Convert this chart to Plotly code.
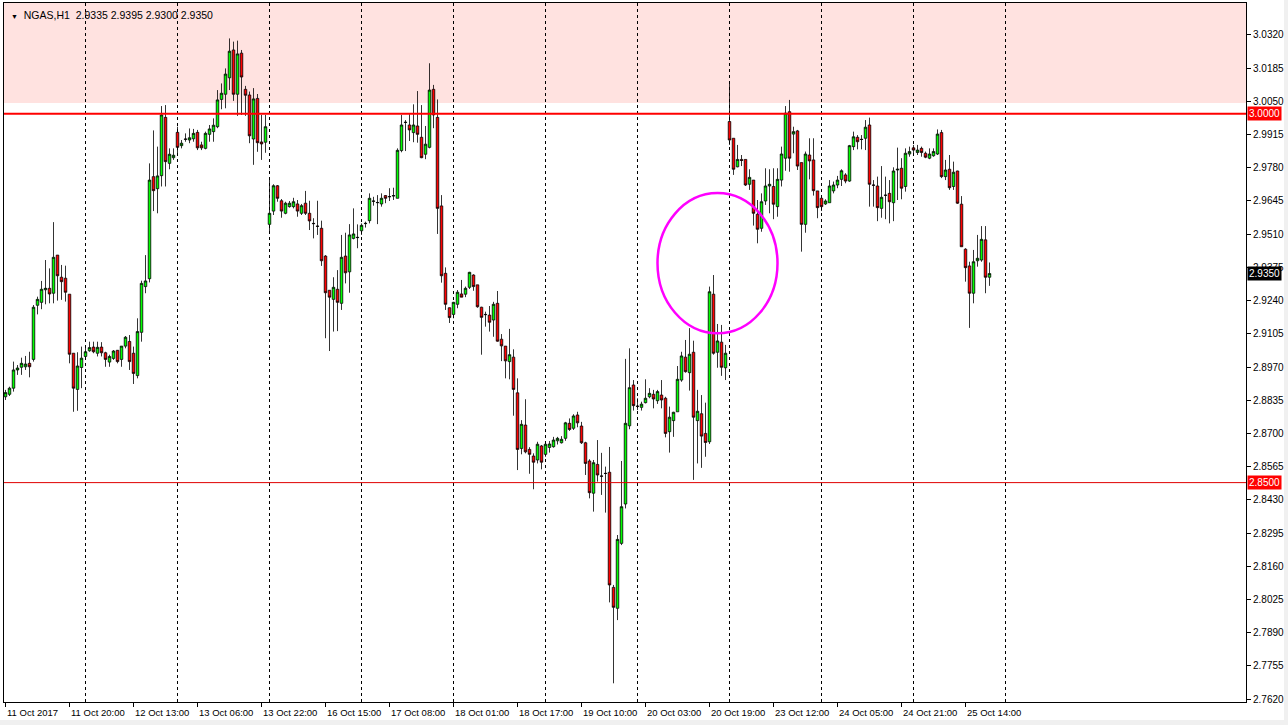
import plotly.graph_objects as go

symbol = "NGAS,H1"

opens = [2.8849,2.8859,2.8884,2.8958,2.8969,2.8971,2.8985,2.9001,2.9221,2.9233,
2.9284,2.9290,2.9270,2.9425,2.9335,2.9331,2.9266,2.9026,2.8879,2.8968,
2.9013,2.9036,2.9051,2.9026,2.9051,2.9028,2.8990,2.9005,2.9038,2.9001,
2.9055,2.9074,2.9026,2.8935,2.9111,2.9297,2.9329,2.9744,2.9695,2.9748,
2.9985,2.9798,2.9821,2.9924,2.9870,2.9897,2.9893,2.9898,2.9924,2.9873,
2.9859,2.9916,2.9927,2.9947,3.0058,3.0079,3.0146,3.0259,3.0079,3.0246,
3.0099,3.0076,2.9897,3.0062,2.9885,2.9884,2.9550,2.9604,2.9707,2.9646,
2.9595,2.9622,2.9622,2.9633,2.9595,2.9636,2.9595,2.9554,2.9543,2.9534,
2.9421,2.9282,2.9245,2.9286,2.9229,2.9421,2.9357,2.9493,2.9496,2.9524,
2.9553,2.9565,2.9645,2.9638,2.9633,2.9667,2.9662,2.9665,2.9656,2.9850,
2.9964,2.9954,2.9923,2.9950,2.9904,2.9835,2.9863,3.0099,2.9985,2.9625,
2.9351,2.9211,2.9184,2.9225,2.9267,2.9266,2.9294,2.9344,2.9304,2.9213,
2.9184,2.9181,2.9161,2.9229,2.9083,2.9055,2.8992,2.9010,2.8865,2.8639,
2.8734,2.8635,2.8608,2.8592,2.8649,2.8615,2.8643,2.8646,2.8670,2.8662,
2.8680,2.8741,2.8721,2.8775,2.8730,2.8662,2.8588,2.8457,2.8574,2.8527,
2.8538,2.8542,2.8074,2.7989,2.8253,2.8413,2.8731,2.8897,2.8811,2.8806,
2.8825,2.8849,2.8859,2.8833,2.8856,2.8843,2.8707,2.8752,2.8788,2.8917,
2.9010,2.8947,2.9030,2.8752,2.8780,2.8700,2.8666,2.9266,2.9030,2.9071,
2.8967,2.9968,2.9900,2.9784,2.9814,2.9814,2.9713,2.9730,2.9591,2.9534,
2.9645,2.9706,2.9704,2.9622,2.9730,2.9819,3.0008,2.9917,2.9930,2.9801,
2.9550,2.9832,2.9812,2.9686,2.9656,2.9633,2.9638,2.9686,2.9710,2.9733,
2.9751,2.9726,2.9866,2.9904,2.9896,2.9900,2.9954,2.9710,2.9706,2.9615,
2.9669,2.9676,2.9638,2.9771,2.9778,2.9704,2.9836,2.9861,2.9842,2.9859,
2.9839,2.9819,2.9829,2.9836,2.9923,2.9744,2.9774,2.9704,2.9767,2.9632,
2.9449,2.9381,2.9270,2.9402,2.9405,2.9487,2.9335]

highs = [2.8877,2.8890,2.8992,2.8978,2.9008,2.9015,2.9032,2.9222,2.9256,2.9320,
2.9405,2.9371,2.9559,2.9425,2.9385,2.9382,2.9266,2.9026,2.9030,2.9053,
2.9053,2.9073,2.9073,2.9073,2.9071,2.9032,2.9020,2.9039,2.9039,2.9055,
2.9096,2.9100,2.9053,2.9168,2.9321,2.9425,2.9798,2.9932,2.9866,3.0031,
3.0035,2.9859,2.9859,2.9947,2.9893,2.9920,2.9940,2.9938,2.9934,2.9886,
2.9927,2.9954,2.9981,3.0096,3.0123,3.0184,3.0306,3.0293,3.0297,3.0259,
3.0113,3.0090,3.0104,3.0080,2.9995,2.9995,2.9733,2.9713,2.9710,2.9653,
2.9642,2.9645,2.9658,2.9649,2.9633,2.9686,2.9646,2.9575,2.9646,2.9565,
2.9425,2.9282,2.9335,2.9364,2.9507,2.9516,2.9551,2.9615,2.9550,2.9554,
2.9561,2.9676,2.9662,2.9669,2.9676,2.9669,2.9697,2.9699,2.9859,2.9995,
2.9974,2.9998,3.0038,3.0092,3.0035,2.9950,3.0205,3.0117,3.0058,2.9669,
2.9375,2.9212,2.9235,2.9283,2.9324,2.9297,2.9357,2.9347,2.9304,2.9215,
2.9195,2.9218,2.9235,2.9279,2.9104,2.9055,2.9125,2.9042,2.8924,2.8754,
2.8839,2.8644,2.8619,2.8666,2.8653,2.8662,2.8669,2.8686,2.8686,2.8689,
2.8747,2.8761,2.8778,2.8788,2.8747,2.8666,2.8595,2.8592,2.8673,2.8621,
2.8565,2.8645,2.8084,2.8287,2.8588,2.9003,2.9046,2.8917,2.8843,2.8829,
2.8920,2.8884,2.8877,2.8877,2.8917,2.8849,2.8809,2.8788,2.8974,2.9032,
2.9080,2.9128,2.9077,2.8877,2.8856,2.8825,2.9297,2.9344,2.9145,2.9141,
2.9060,3.0130,2.9900,2.9873,2.9832,2.9814,2.9774,2.9730,2.9649,2.9676,
2.9778,2.9774,2.9778,2.9778,2.9866,3.0031,3.0056,2.9947,2.9934,2.9801,
2.9846,2.9900,2.9900,2.9686,2.9656,2.9652,2.9730,2.9724,2.9747,2.9774,
2.9758,2.9873,2.9927,2.9913,2.9913,2.9974,2.9984,2.9730,2.9744,2.9787,
2.9744,2.9730,2.9782,2.9862,2.9819,2.9859,2.9866,2.9873,2.9873,2.9866,
2.9846,2.9859,2.9859,2.9936,2.9934,2.9812,2.9832,2.9805,2.9768,2.9665,
2.9453,2.9398,2.9446,2.9507,2.9543,2.9543,2.9395]

lows = [2.8836,2.8852,2.8870,2.8938,2.8938,2.8958,2.8928,2.8992,2.9184,2.9205,
2.9225,2.9229,2.9229,2.9240,2.9243,2.9236,2.8985,2.8788,2.8792,2.8884,
2.8999,2.9032,2.9026,2.9013,2.9013,2.8971,2.8971,2.8999,2.8985,2.8971,
2.9046,2.8958,2.8901,2.8924,2.9073,2.9270,2.9314,2.9604,2.9595,2.9704,
2.9704,2.9774,2.9812,2.9836,2.9859,2.9886,2.9880,2.9886,2.9852,2.9852,
2.9855,2.9886,2.9886,2.9941,3.0018,3.0022,3.0096,3.0052,2.9991,2.9995,
2.9991,2.9880,2.9792,2.9845,2.9812,2.9841,2.9514,2.9588,2.9642,2.9577,
2.9591,2.9618,2.9615,2.9581,2.9588,2.9588,2.9527,2.9493,2.9507,2.9381,
2.9087,2.9035,2.9114,2.9116,2.9202,2.9310,2.9272,2.9489,2.9453,2.9507,
2.9537,2.9554,2.9626,2.9551,2.9622,2.9636,2.9645,2.9649,2.9656,2.9843,
2.9848,2.9889,2.9884,2.9882,2.9819,2.9815,2.9859,2.9941,2.9511,2.9313,
2.9202,2.9149,2.9168,2.9209,2.9254,2.9254,2.9287,2.9280,2.9211,2.9020,
2.9134,2.9114,2.9093,2.9073,2.8994,2.8924,2.8920,2.8772,2.8551,2.8615,
2.8619,2.8536,2.8473,2.8578,2.8554,2.8605,2.8622,2.8642,2.8655,2.8659,
2.8670,2.8710,2.8714,2.8725,2.8657,2.8531,2.8436,2.8382,2.8504,2.8450,
2.8378,2.8013,2.7684,2.7941,2.8246,2.8395,2.8717,2.8793,2.8795,2.8793,
2.8822,2.8843,2.8802,2.8820,2.8802,2.8684,2.8622,2.8686,2.8788,2.8910,
2.8947,2.8874,2.8511,2.8578,2.8560,2.8605,2.8657,2.9020,2.8967,2.8934,
2.8917,2.9873,2.9751,2.9782,2.9787,2.9706,2.9690,2.9545,2.9473,2.9520,
2.9629,2.9595,2.9571,2.9581,2.9704,2.9768,2.9764,2.9839,2.9771,2.9439,
2.9516,2.9733,2.9667,2.9575,2.9604,2.9629,2.9638,2.9676,2.9697,2.9706,
2.9717,2.9723,2.9852,2.9855,2.9855,2.9852,2.9622,2.9622,2.9563,2.9577,
2.9571,2.9554,2.9563,2.9649,2.9652,2.9683,2.9825,2.9832,2.9832,2.9825,
2.9819,2.9815,2.9825,2.9832,2.9738,2.9730,2.9690,2.9690,2.9633,2.9459,
2.9317,2.9129,2.9229,2.9378,2.9398,2.9270,2.9300]

closes = [2.8866,2.8884,2.8958,2.8966,2.8985,2.8982,2.8971,2.9213,2.9245,2.9286,
2.9290,2.9267,2.9416,2.9341,2.9317,2.9274,2.9022,2.8884,2.8974,2.9006,
2.9032,2.9049,2.9032,2.9050,2.9028,2.9001,2.9013,2.9035,2.8992,2.9055,
2.9091,2.8992,2.8944,2.9114,2.9310,2.9320,2.9730,2.9687,2.9747,2.9995,
2.9805,2.9835,2.9831,2.9863,2.9880,2.9896,2.9902,2.9920,2.9861,2.9861,
2.9920,2.9938,2.9953,3.0056,3.0083,3.0161,3.0254,3.0079,3.0243,3.0149,
3.0075,2.9910,3.0060,2.9882,2.9877,2.9947,2.9595,2.9707,2.9656,2.9604,
2.9636,2.9636,2.9642,2.9604,2.9626,2.9595,2.9564,2.9553,2.9542,2.9402,
2.9272,2.9254,2.9294,2.9233,2.9416,2.9353,2.9507,2.9511,2.9497,2.9546,
2.9554,2.9656,2.9644,2.9639,2.9656,2.9656,2.9663,2.9667,2.9851,2.9954,
2.9965,2.9934,2.9954,2.9916,2.9821,2.9876,3.0096,2.9995,2.9615,2.9341,
2.9225,2.9171,2.9233,2.9274,2.9254,2.9290,2.9355,2.9297,2.9215,2.9172,
2.9183,2.9152,2.9225,2.9075,2.9056,2.8995,2.9020,2.8879,2.8635,2.8737,
2.8625,2.8615,2.8583,2.8656,2.8583,2.8656,2.8657,2.8673,2.8680,2.8676,
2.8743,2.8716,2.8771,2.8743,2.8662,2.8578,2.8459,2.8581,2.8531,2.8526,
2.8537,2.8084,2.7993,2.8269,2.8402,2.8741,2.8886,2.8813,2.8810,2.8819,
2.8843,2.8863,2.8840,2.8870,2.8836,2.8700,2.8766,2.8786,2.8920,2.9015,
2.8951,2.9022,2.8766,2.8790,2.8689,2.8663,2.9276,2.9026,2.9076,2.8969,
2.9026,2.9893,2.9774,2.9814,2.9810,2.9710,2.9741,2.9595,2.9530,2.9642,
2.9706,2.9713,2.9632,2.9733,2.9836,3.0002,2.9819,2.9927,2.9787,2.9550,
2.9836,2.9808,2.9687,2.9618,2.9622,2.9645,2.9706,2.9710,2.9730,2.9768,
2.9726,2.9870,2.9906,2.9886,2.9895,2.9945,2.9713,2.9709,2.9618,2.9660,
2.9668,2.9642,2.9767,2.9774,2.9697,2.9839,2.9846,2.9852,2.9852,2.9842,
2.9823,2.9836,2.9846,2.9917,2.9744,2.9771,2.9699,2.9762,2.9636,2.9459,
2.9374,2.9270,2.9398,2.9412,2.9489,2.9335,2.9350]

# bar index of each time label (every 16 bars) and its text
time_label_bars = [0, 16, 32, 48, 64, 80, 96, 112, 128, 144, 160, 176, 192, 208, 224, 240]
time_labels = ["11 Oct 2017", "11 Oct 20:00", "12 Oct 13:00", "13 Oct 06:00",
               "13 Oct 22:00", "16 Oct 15:00", "17 Oct 08:00", "18 Oct 01:00",
               "18 Oct 17:00", "19 Oct 10:00", "20 Oct 03:00", "20 Oct 19:00",
               "23 Oct 12:00", "24 Oct 05:00", "24 Oct 21:00", "25 Oct 14:00"]
# bar index of day separators
day_separator_bars = [20, 43, 66, 89, 112, 135, 158, 181, 204, 227, 250]

price_ticks = [3.0320, 3.0185, 3.0050, 2.9915, 2.9780, 2.9645, 2.9510, 2.9375,
               2.9240, 2.9105, 2.8970, 2.8835, 2.8700, 2.8565, 2.8430, 2.8295,
               2.8160, 2.8025, 2.7890, 2.7755, 2.7620]

resistance_level = 3.0000
support_level = 2.8500
zone_low = 3.0043
y_min, y_max = 2.7608, 3.0450
x_min, x_max = -0.375, 310.125

circle_bars = (163, 193)
circle_prices = (2.9107, 2.9677)

FONT = "Liberation Sans"
x = list(range(len(opens)))

fig = go.Figure()
fig.add_trace(go.Candlestick(
    x=x, open=opens, high=highs, low=lows, close=closes,
    increasing=dict(fillcolor="#00FF00", line=dict(color="black", width=0.8)),
    decreasing=dict(fillcolor="#FF0000", line=dict(color="black", width=0.8)),
    whiskerwidth=0, showlegend=False, hoverinfo="skip",
))

shapes = []
# resistance zone
shapes.append(dict(type="rect", xref="paper", yref="y", x0=0, x1=1, y0=zone_low, y1=y_max,
                   fillcolor="#FFE2E0", line=dict(width=0), layer="below"))
# day separators
for b in day_separator_bars:
    shapes.append(dict(type="line", xref="x", yref="paper", x0=b, x1=b, y0=0, y1=1,
                       line=dict(color="black", width=1, dash="3px,3px"), layer="below"))
# horizontal levels
shapes.append(dict(type="line", xref="paper", yref="y", x0=0, x1=1, y0=resistance_level,
                   y1=resistance_level, line=dict(color="#FF0000", width=2)))
shapes.append(dict(type="line", xref="paper", yref="y", x0=0, x1=1, y0=support_level,
                   y1=support_level, line=dict(color="#E00000", width=1)))
# highlight circle
shapes.append(dict(type="circle", xref="x", yref="y", x0=circle_bars[0], x1=circle_bars[1],
                   y0=circle_prices[0], y1=circle_prices[1],
                   line=dict(color="#FF00FF", width=2.5)))
# window frame strips
shapes.append(dict(type="rect", xref="paper", yref="paper", x0=-0.01, x1=1.05, y0=-0.06, y1=-0.0258,
                   fillcolor="#F0F0F0", line=dict(width=0), layer="below"))
shapes.append(dict(type="rect", xref="paper", yref="paper", x0=1.0306, x1=1.05, y0=-0.06, y1=1.01,
                   fillcolor="#F0F0F0", line=dict(width=0), layer="below"))

annotations = []
for b, t in zip(time_label_bars, time_labels):
    annotations.append(dict(x=b, y=0, xref="x", yref="paper", text=t, showarrow=False,
                            xanchor="left", yanchor="top", xshift=-1, yshift=-3,
                            font=dict(family=FONT, size=9.5, color="black")))

def price_tag(value, bg):
    return dict(x=1, y=value, xref="paper", yref="y", text=f"{value:.4f}", showarrow=False,
                xanchor="left", yanchor="middle", xshift=1, bgcolor=bg, borderpad=1,
                font=dict(family=FONT, size=10, color="white"))

annotations.append(price_tag(resistance_level, "#FF0000"))
annotations.append(price_tag(support_level, "#FF0000"))
annotations.append(price_tag(closes[-1], "#000000"))

header = (f"<span style='font-size:7px'>▼</span>  {symbol}  "
          f"{opens[-1]:.4f} {highs[-1]:.4f} {lows[-1]:.4f} {closes[-1]:.4f}")
annotations.append(dict(x=0, y=1, xref="paper", yref="paper", text=header, showarrow=False,
                        xanchor="left", yanchor="top", xshift=5, yshift=-4,
                        font=dict(family=FONT, size=10.5, color="black")))

fig.update_layout(
    width=1288, height=725,
    margin=dict(l=4, r=42, t=3, b=23),
    paper_bgcolor="white", plot_bgcolor="white",
    shapes=shapes, annotations=annotations,
    boxgap=0.1,
    xaxis=dict(range=[x_min, x_max], rangeslider=dict(visible=False),
               showgrid=False, zeroline=False, showline=True, mirror=True,
               linecolor="black", linewidth=1,
               tickmode="array", tickvals=time_label_bars, showticklabels=False,
               ticks="outside", ticklen=4, tickcolor="black"),
    yaxis=dict(range=[y_min, y_max], side="right", showgrid=False, zeroline=False,
               showline=True, mirror=True, linecolor="black", linewidth=1,
               tickmode="array", tickvals=price_ticks, tickformat=".4f",
               ticks="outside", ticklen=4, tickcolor="black",
               tickfont=dict(family=FONT, size=10, color="black")),
    hovermode=False,
)

fig.write_html("out.html", config={"displayModeBar": False},
               post_script="document.body.style.margin='0';document.body.style.overflow='hidden';")
